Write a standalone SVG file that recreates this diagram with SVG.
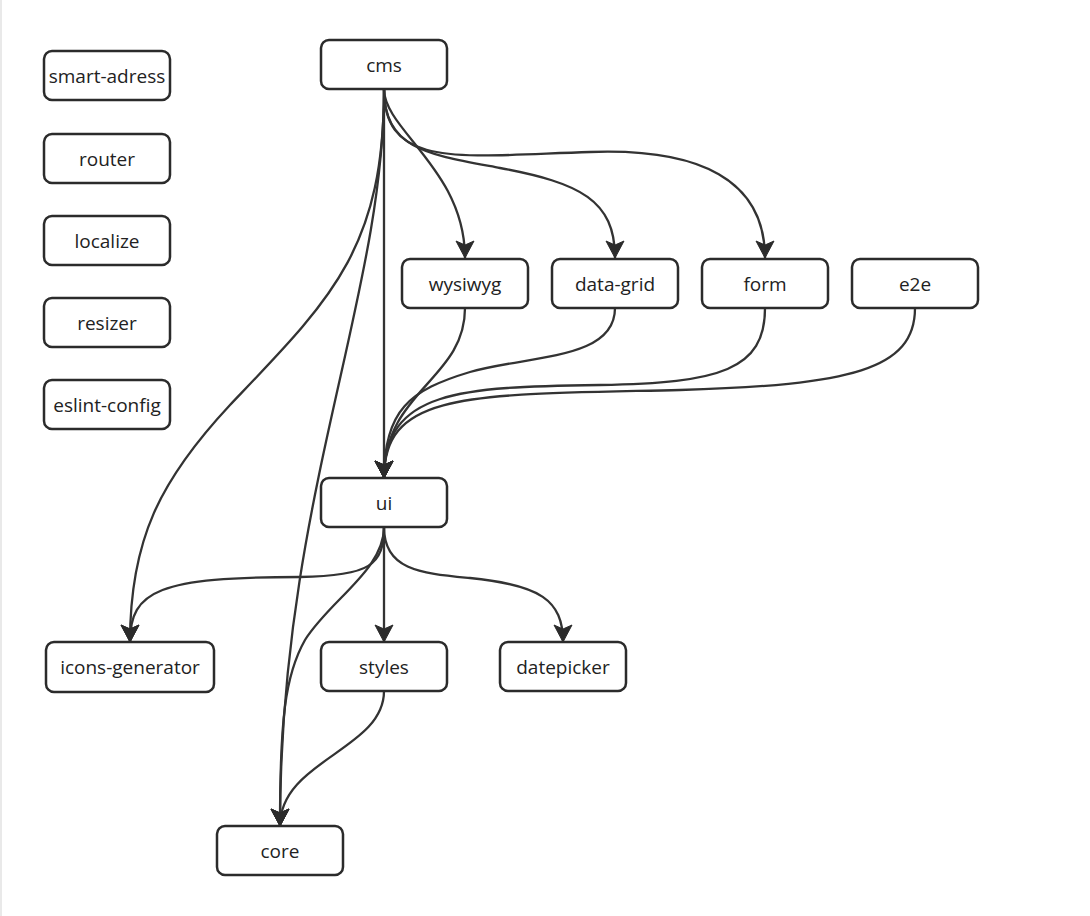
<svg xmlns="http://www.w3.org/2000/svg" width="1090" height="916" viewBox="0 0 1090 916">
<style>
.node rect{fill:#fff;stroke:#2b2b2b;stroke-width:2.5}
.node text{font-family:"Open Sans","Noto Sans",sans-serif;font-size:19px;fill:#222;text-anchor:middle;dominant-baseline:central}
.edges path{fill:none;stroke:#333;stroke-width:2.3}
.arr{marker-end:url(#ah)}
</style>
<defs>
<marker id="ah" markerUnits="userSpaceOnUse" markerWidth="20" markerHeight="20" viewBox="0 0 20 20" refX="18" refY="10" orient="auto">
<path d="M1,1 L18,10 L1,19 L5,10 z" fill="#2b2b2b" stroke="#2b2b2b" stroke-width="1" stroke-linejoin="round"/>
</marker>
</defs>
<rect x="0" y="0" width="1090" height="916" fill="#fff"/>
<line x1="1" y1="0" x2="1" y2="916" stroke="#e2e2e2" stroke-width="1.5"/>
<g class="edges">
<path d="M384 89 L384 478" class="arr"/>
<path d="M384 89 C384 130,465 170,465 258" class="arr"/>
<path d="M384 89 C384 150,430 155,500 168 C580 183,615 200,615 258" class="arr"/>
<path d="M384 89 C384 170,460 156,590 152 C700 148,765 180,765 258" class="arr"/>
<path d="M384 89 C384 250,330 300,230 405 C160 480,130 540,130 642" class="arr"/>
<path d="M384 89 C384 300,280 500,280 826" class="arr"/>
<path d="M465 308 C465 380,384 390,384 478" class="arr"/>
<path d="M615 308 C615 360,530 355,470 372 C410 390,384 410,384 478" class="arr"/>
<path d="M765 308 C765 370,720 383,600 385 C460 387,384 390,384 478" class="arr"/>
<path d="M915 308 C915 370,850 385,680 390 C470 395,384 390,384 478" class="arr"/>
<path d="M384 527 L384 642" class="arr"/>
<path d="M384 527 C384 565,370 576,300 577 C160 577,130 590,130 642" class="arr"/>
<path d="M384 527 C384 570,420 573,470 578 C540 585,563 600,563 642" class="arr"/>
<path d="M384 527 C384 570,330 600,305 640 C285 675,280 720,280 826" class="arr"/>
<path d="M384 691 C384 750,280 760,280 826" class="arr"/>
</g>
<g id="smart-adress" class="node"><rect x="44" y="51" width="126" height="49" rx="8"/><text x="107" y="75.5">smart-adress</text></g>
<g id="router" class="node"><rect x="44" y="134" width="126" height="49" rx="8"/><text x="107" y="158.5">router</text></g>
<g id="localize" class="node"><rect x="44" y="216" width="126" height="49" rx="8"/><text x="107" y="240.5">localize</text></g>
<g id="resizer" class="node"><rect x="44" y="298" width="126" height="49" rx="8"/><text x="107" y="322.5">resizer</text></g>
<g id="eslint-config" class="node"><rect x="44" y="380" width="126" height="49" rx="8"/><text x="107" y="404.5">eslint-config</text></g>
<g id="cms" class="node"><rect x="321" y="40" width="126" height="49" rx="8"/><text x="384" y="64.5">cms</text></g>
<g id="wysiwyg" class="node"><rect x="402" y="259" width="126" height="49" rx="8"/><text x="465" y="283.5">wysiwyg</text></g>
<g id="data-grid" class="node"><rect x="552" y="259" width="126" height="49" rx="8"/><text x="615" y="283.5">data-grid</text></g>
<g id="form" class="node"><rect x="702" y="259" width="126" height="49" rx="8"/><text x="765" y="283.5">form</text></g>
<g id="e2e" class="node"><rect x="852" y="259" width="126" height="49" rx="8"/><text x="915" y="283.5">e2e</text></g>
<g id="ui" class="node"><rect x="321" y="478" width="126" height="49" rx="8"/><text x="384" y="502.5">ui</text></g>
<g id="icons-generator" class="node"><rect x="46" y="642" width="168" height="50" rx="8"/><text x="130" y="667">icons-generator</text></g>
<g id="styles" class="node"><rect x="321" y="642" width="126" height="49" rx="8"/><text x="384" y="666.5">styles</text></g>
<g id="datepicker" class="node"><rect x="500" y="642" width="126" height="49" rx="8"/><text x="563" y="666.5">datepicker</text></g>
<g id="core" class="node"><rect x="217" y="826" width="126" height="49" rx="8"/><text x="280" y="850.5">core</text></g>
</svg>
